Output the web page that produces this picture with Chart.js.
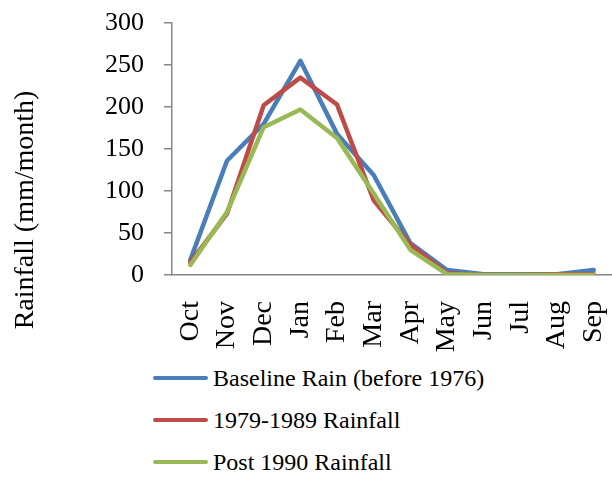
<!DOCTYPE html>
<html>
<head>
<meta charset="utf-8">
<script src="https://cdn.jsdelivr.net/npm/chart.js@4"></script>
<style>
  body { margin: 0; background: #fff; }
  #wrap { position: relative; width: 612px; height: 357px; }
  #legend { margin-left: 153px; font-family: "Liberation Serif"; font-size: 24px; color: #000; }
  .item { display: flex; align-items: center; height: 42px; }
  .swatch { width: 55px; height: 4px; border-radius: 2px; margin-right: 5px; }
</style>
</head>
<body>
<div id="wrap"><canvas id="chart"></canvas></div>
<div id="legend"></div>
<script>
const months = ['Oct', 'Nov', 'Dec', 'Jan', 'Feb', 'Mar', 'Apr', 'May', 'Jun', 'Jul', 'Aug', 'Sep'];
const baseline = [18, 136, 180, 255, 168, 119, 38, 6, 1, 1, 1, 6];
const rain7989 = [15, 73, 202, 235, 203, 89, 36, 2, 0, 0, 1, 1];
const post1990 = [12, 75, 176, 197, 163, 97, 30, 1, 0, 0, 0, 0];
const seriesNames = ['Baseline Rain (before 1976)', '1979-1989 Rainfall', 'Post 1990 Rainfall'];
const seriesColors = ['#4A7EBB', '#BE4B48', '#98B954'];

const serif = '"Liberation Serif"';
Chart.defaults.font.family = serif;

// y title drawn by hand, it sits lower than the plot centre in the original
const yTitle = {
    id: 'yTitle',
    afterDraw(chart) {
        const ctx = chart.ctx;
        ctx.save();
        ctx.translate(33, 210);
        ctx.rotate(-Math.PI / 2);
        ctx.font = '28px ' + serif;
        ctx.fillStyle = '#000';
        ctx.textAlign = 'center';
        ctx.textBaseline = 'alphabetic';
        ctx.fillText('Rainfall (mm/month)', 0, 0);
        ctx.restore();
    }
};

const allSeries = [baseline, rain7989, post1990];
const datasets = allSeries.map((vals, i) => ({
    label: seriesNames[i],
    data: vals,
    borderColor: seriesColors[i],
    backgroundColor: seriesColors[i],
    borderWidth: 4.5,
    pointRadius: 0,
    tension: 0,
    borderJoinStyle: 'round',
    borderCapStyle: 'round',
    order: 3 - i
}));

const myChart = new Chart(document.getElementById('chart'), {
    type: 'line',
    data: { labels: months, datasets: datasets },
    options: {
        responsive: true,
        maintainAspectRatio: false,
        animation: false,
        layout: { padding: { top: 23, right: 0, bottom: 0, left: 0 } },
        plugins: { legend: { display: false }, tooltip: { enabled: false } },
        scales: {
            x: {
                offset: true,
                grid: { display: false },
                border: { display: true, color: '#868686', width: 1.5 },
                ticks: { color: '#000', font: { family: serif, size: 28 }, maxRotation: 90, minRotation: 90, autoSkip: false, padding: 18 },
                afterFit(scale) {
                    scale.height = 82;
                    scale.paddingLeft = 0;
                    scale.paddingRight = 0;
                }
            },
            y: {
                min: 0,
                max: 300,
                grid: { drawOnChartArea: false, drawTicks: true, tickLength: 8, color: '#868686', lineWidth: 1.5 },
                border: { display: true, color: '#868686', width: 1.5 },
                ticks: { stepSize: 50, color: '#000', font: { family: serif, size: 26 }, padding: 20 },
                afterFit(scale) {
                    scale.width = 172;
                    scale.paddingTop = 0;
                    scale.paddingBottom = 0;
                }
            }
        }
    },
    plugins: [yTitle]
});

const legend = document.getElementById('legend');
seriesNames.forEach((name, i) => {
    const item = document.createElement('div');
    item.className = 'item';
    const sw = document.createElement('span');
    sw.className = 'swatch';
    sw.style.background = seriesColors[i];
    const txt = document.createElement('span');
    txt.textContent = name;
    item.appendChild(sw);
    item.appendChild(txt);
    legend.appendChild(item);
});
</script>
</body>
</html>
